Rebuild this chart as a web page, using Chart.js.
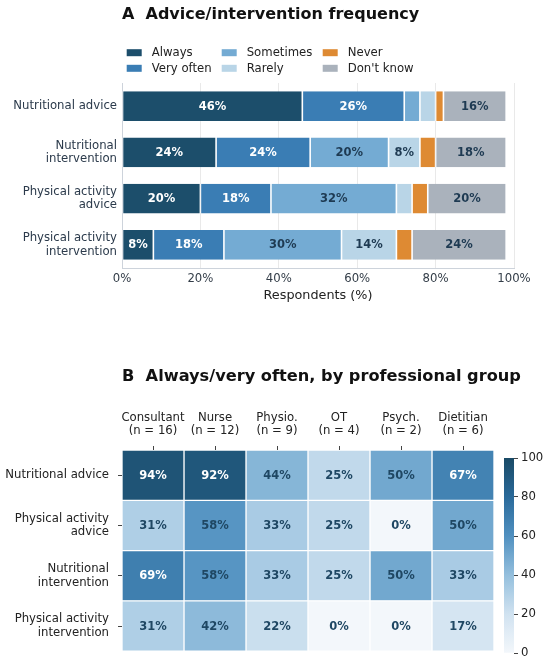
<!DOCTYPE html>
<html>
<head>
<meta charset="utf-8">
<script src="https://cdn.jsdelivr.net/npm/chart.js@4.4.1/dist/chart.umd.min.js"></script>
<style>
  html, body { margin: 0; padding: 0; background: #ffffff; }
  body { width: 550px; height: 667px; position: relative; overflow: hidden; }
  canvas { position: absolute; }
</style>
</head>
<body>
<canvas id="freq" width="550" height="305" style="left:0;top:0"></canvas>
<canvas id="heat" width="550" height="307" style="left:0;top:360px"></canvas>
<canvas id="cbar" width="60" height="227" style="left:490px;top:440px"></canvas>
<script>
// ---------- Data: panel A ----------
const freqCategories = ['Nutritional advice', 'Nutritional intervention', 'Physical activity advice', 'Physical activity intervention'];
const freqTickLabels = [['Nutritional advice'], ['Nutritional', 'intervention'], ['Physical activity', 'advice'], ['Physical activity', 'intervention']];
const responseLabels = ['Always', 'Very often', 'Sometimes', 'Rarely', 'Never', "Don't know"];
const alwaysVals    = [46, 24, 20, 8];
const veryOftenVals = [26, 24, 18, 18];
const sometimesVals = [4, 20, 32, 30];
const rarelyVals    = [4, 8, 4, 14];
const neverVals     = [2, 4, 4, 4];
const dontKnowVals  = [16, 18, 20, 24];
const xTickValues   = [0, 20, 40, 60, 80, 100];
const titleA = 'A  Advice/intervention frequency';

// ---------- Data: panel B ----------
const groups = ['Consultant', 'Nurse', 'Physio.', 'OT', 'Psych.', 'Dietitian'];
const groupN = [16, 12, 9, 4, 2, 6];
const heatRows = ['Nutritional advice', 'Physical activity advice', 'Nutritional intervention', 'Physical activity intervention'];
const heatTickLabels = [['Nutritional advice'], ['Physical activity', 'advice'], ['Nutritional', 'intervention'], ['Physical activity', 'intervention']];
const nutritionalAdvicePct      = [94, 92, 44, 25, 50, 67];
const physActivityAdvicePct     = [31, 58, 33, 25, 0, 50];
const nutritionalInterventionPct = [69, 58, 33, 25, 50, 33];
const physActivityInterventionPct = [31, 42, 22, 0, 0, 17];
const colorbarTicks = [0, 20, 40, 60, 80, 100];
const titleB = 'B  Always/very often, by professional group';

// ---------- Styles ----------
const FONT = "'DejaVu Sans', 'Liberation Sans', sans-serif";
const respColors = ['#1c4e6b', '#3a7db4', '#74abd3', '#b9d5e7', '#de8a33', '#aab2bc'];
const respTextColors = ['#ffffff', '#ffffff', '#1e3a52', '#1e3a52', '#1e3a52', '#1e3a52'];
const cmapStops = [
  [0.0, [243, 247, 251]],
  [0.2, [208, 226, 240]],
  [0.4, [148, 191, 221]],
  [0.6, [80, 144, 192]],
  [0.8, [42, 106, 154]],
  [1.0, [26, 74, 102]]
];
function cmap(t) {
  t = Math.max(0, Math.min(1, t));
  for (let k = 1; k < cmapStops.length; k++) {
    const [t1, c1] = cmapStops[k];
    const [t0, c0] = cmapStops[k - 1];
    if (t <= t1) {
      const f = (t - t0) / (t1 - t0);
      const c = c0.map((v, i) => Math.round(v + (c1[i] - v) * f));
      return `rgb(${c[0]},${c[1]},${c[2]})`;
    }
  }
  const c = cmapStops[cmapStops.length - 1][1];
  return `rgb(${c[0]},${c[1]},${c[2]})`;
}

Chart.defaults.font.family = FONT;
Chart.defaults.animation = false;

// Panel title drawn left-aligned with the plot area (no width squeezing)
function panelTitlePlugin(text, yCenter, size) {
  return {
    id: 'panelTitle',
    afterDraw(chart) {
      const ctx = chart.ctx;
      ctx.save();
      ctx.font = `bold ${size}px ${FONT}`;
      ctx.fillStyle = '#111111';
      ctx.textAlign = 'left';
      ctx.textBaseline = 'middle';
      ctx.fillText(text, chart.chartArea.left, yCenter);
      ctx.restore();
    }
  };
}

// ---------- Panel A ----------
const seriesVals = [alwaysVals, veryOftenVals, sometimesVals, rarelyVals, neverVals, dontKnowVals];

const barLabelPlugin = {
  id: 'barLabels',
  afterDatasetsDraw(chart) {
    const ctx = chart.ctx;
    ctx.save();
    ctx.font = `bold 11.5px ${FONT}`;
    ctx.textAlign = 'center';
    ctx.textBaseline = 'middle';
    chart.data.datasets.forEach((ds, di) => {
      const meta = chart.getDatasetMeta(di);
      meta.data.forEach((el, i) => {
        const v = ds.data[i];
        if (v < 8) return;
        const p = el.getProps(['x', 'base', 'y'], true);
        ctx.fillStyle = respTextColors[di];
        ctx.fillText(v + '%', (p.x + p.base) / 2, p.y + 0.5);
      });
    });
    ctx.restore();
  }
};

const legendPlugin = {
  id: 'customLegend',
  afterDraw(chart) {
    const ctx = chart.ctx;
    const left = chart.chartArea.left;
    const colX = [4.7, 99.7, 200.7];
    const rowY = [52.7, 68.3];
    ctx.save();
    ctx.font = `11.7px ${FONT}`;
    ctx.textBaseline = 'middle';
    ctx.textAlign = 'left';
    chart.data.datasets.forEach((ds, di) => {
      const col = Math.floor(di / 2), row = di % 2;
      const bx = left + colX[col], by = rowY[row];
      ctx.fillStyle = ds.backgroundColor;
      ctx.fillRect(bx, by - 3.5, 15, 7);
      ctx.fillStyle = '#222222';
      ctx.fillText(ds.label, bx + 25, by + 0.5);
    });
    ctx.restore();
  }
};

new Chart(document.getElementById('freq'), {
  type: 'bar',
  data: {
    labels: freqCategories,
    datasets: responseLabels.map((lab, k) => ({
      label: lab,
      data: seriesVals[k],
      backgroundColor: respColors[k],
      borderColor: '#ffffff',
      borderWidth: { left: 0.8, right: 0.8, top: 0, bottom: 0 },
      borderSkipped: false,
      categoryPercentage: 1.0,
      barPercentage: 0.64
    }))
  },
  options: {
    responsive: false,
    indexAxis: 'y',
    layout: { padding: { top: 83, right: 36, left: 0, bottom: 0 } },
    plugins: {
      legend: { display: false },
      tooltip: { enabled: false },
      title: { display: false }
    },
    scales: {
      x: {
        stacked: true,
        min: 0, max: 100,
        afterBuildTicks(s) { s.ticks = xTickValues.map(v => ({ value: v })); },
        afterFit(s) { s.height = 37; },
        ticks: { callback: v => v + '%', color: '#333d48', font: { size: 11.7 }, padding: 4, maxRotation: 0 },
        grid: { color: '#e9e9e9', drawTicks: false, lineWidth: 1 },
        border: { display: true, color: '#cdd3db', width: 1 },
        title: { display: true, text: 'Respondents (%)', color: '#222222', font: { size: 12.8 }, padding: { top: 2, bottom: 2 } }
      },
      y: {
        stacked: true,
        afterFit(s) { s.width = 122; },
        ticks: {
          callback: (v, i) => freqTickLabels[i],
          color: '#2b3a4b', font: { size: 11.7, lineHeight: 1.15 }, padding: 5
        },
        grid: { display: false, drawTicks: false },
        border: { display: true, color: '#cdd3db', width: 1 }
      }
    }
  },
  plugins: [barLabelPlugin, legendPlugin, panelTitlePlugin(titleA, 14.7, 16)]
});

// ---------- Panel B ----------
const heatMatrix = [nutritionalAdvicePct, physActivityAdvicePct, nutritionalInterventionPct, physActivityInterventionPct];

const heatLabelPlugin = {
  id: 'heatLabels',
  afterDatasetsDraw(chart) {
    const ctx = chart.ctx;
    ctx.save();
    ctx.font = `bold 11.5px ${FONT}`;
    ctx.textAlign = 'center';
    ctx.textBaseline = 'middle';
    chart.data.datasets.forEach((ds, j) => {
      const meta = chart.getDatasetMeta(j);
      meta.data.forEach((el, i) => {
        const v = heatMatrix[i][j];
        const p = el.getProps(['x', 'base', 'y'], true);
        ctx.fillStyle = v >= 60 ? '#ffffff' : '#1f4763';
        ctx.fillText(v + '%', (p.x + p.base) / 2, p.y + 0.5);
      });
    });
    ctx.restore();
  }
};

new Chart(document.getElementById('heat'), {
  type: 'bar',
  data: {
    labels: heatRows,
    datasets: groups.map((g, j) => ({
      label: g,
      data: heatMatrix.map(() => [j, j + 1]),
      backgroundColor: heatMatrix.map(r => cmap(r[j] / 100)),
      borderColor: '#ffffff',
      borderWidth: 1,
      borderSkipped: false,
      grouped: false,
      categoryPercentage: 1.0,
      barPercentage: 1.0
    }))
  },
  options: {
    responsive: false,
    indexAxis: 'y',
    layout: { padding: { top: 30, right: 56, left: 0, bottom: 5 } },
    plugins: {
      legend: { display: false },
      tooltip: { enabled: false },
      title: { display: false }
    },
    scales: {
      x: {
        position: 'top',
        min: 0, max: 6,
        afterBuildTicks(s) { s.ticks = groups.map((g, j) => ({ value: j + 0.5 })); },
        afterFit(s) { s.height = 60; },
        ticks: {
          callback: (v, i) => [groups[i], `(n = ${groupN[i]})`],
          color: '#222222', font: { size: 11.7, lineHeight: 1.15 }, padding: 8, maxRotation: 0, autoSkip: false
        },
        grid: { drawOnChartArea: false, drawTicks: true, tickLength: 4, color: '#444444' },
        border: { display: false }
      },
      y: {
        afterFit(s) { s.width = 122; },
        ticks: {
          callback: (v, i) => heatTickLabels[i],
          color: '#222222', font: { size: 11.7, lineHeight: 1.15 }, padding: 9
        },
        grid: { offset: false, drawOnChartArea: false, drawTicks: true, tickLength: 4, color: '#444444' },
        border: { display: false }
      }
    }
  },
  plugins: [heatLabelPlugin, panelTitlePlugin(titleB, 16.5, 16.2)]
});

// ---------- Colorbar ----------
new Chart(document.getElementById('cbar'), {
  type: 'bar',
  data: {
    labels: [''],
    datasets: [{
      data: [[colorbarTicks[0], colorbarTicks[colorbarTicks.length - 1]]],
      backgroundColor(ctx) {
        const area = ctx.chart.chartArea;
        if (!area) return cmap(0.5);
        const g = ctx.chart.ctx.createLinearGradient(0, area.bottom, 0, area.top);
        for (let k = 0; k <= 20; k++) g.addColorStop(k / 20, cmap(k / 20));
        return g;
      },
      borderWidth: 0,
      categoryPercentage: 1.0,
      barPercentage: 1.0
    }]
  },
  options: {
    responsive: false,
    layout: { padding: { top: 18, right: 0, left: 14, bottom: 14 } },
    plugins: { legend: { display: false }, tooltip: { enabled: false } },
    scales: {
      x: { display: false },
      y: {
        position: 'right',
        min: 0, max: 100,
        afterBuildTicks(s) { s.ticks = colorbarTicks.map(v => ({ value: v })); },
        afterFit(s) { s.width = 36; },
        ticks: { color: '#222222', font: { size: 11.7 }, padding: 3 },
        grid: { drawOnChartArea: false, drawTicks: true, tickLength: 4, color: '#444444' },
        border: { display: false }
      }
    }
  }
});
</script>
</body>
</html>
